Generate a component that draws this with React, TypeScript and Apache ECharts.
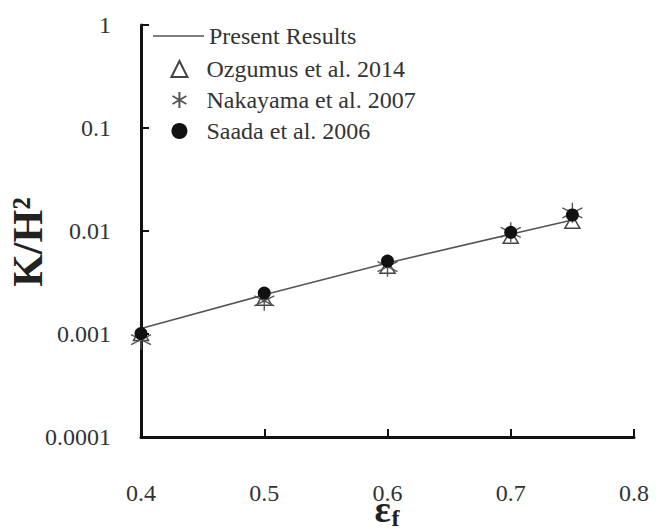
import React, { useEffect, useRef, useState } from "react";
import * as echarts from "echarts";

const porosity = [0.4, 0.5, 0.6, 0.7, 0.75];
const presentResults = [0.00113, 0.0024, 0.0049, 0.0093, 0.0128];
const ozgumus2014 = [0.001, 0.0022, 0.0045, 0.0088, 0.0123];
const nakayama2007 = [0.00088, 0.0021, 0.0045, 0.0097, 0.015];
const saada2006 = [0.00101, 0.0025, 0.0051, 0.0097, 0.0143];
const xTicks = [0.4, 0.5, 0.6, 0.7, 0.8];
const yTickLabels = ["0.0001", "0.001", "0.01", "0.1", "1"];
const seriesNames = ["Present Results", "Ozgumus et al. 2014", "Nakayama et al. 2007", "Saada et al. 2006"];

const FONT = "Times New Roman";
const GFONT = "Liberation Serif";
const ASTERISK = "path://M10,0L10,20M1.34,5L18.66,15M1.34,15L18.66,5";
const pairs = (ys: number[]) => porosity.map((x, i) => [x, ys[i]]);

export default function App() {
  const ref = useRef<HTMLDivElement>(null);
  const [ready, setReady] = useState(false);
  useEffect(() => {
    if (!ref.current) return;
    const chart = echarts.init(ref.current, undefined, { renderer: "svg" });
    const legendText = { fontFamily: FONT, fontSize: 24, color: "#333" };
    const option = {
      animation: false,
      backgroundColor: "#fff",
      textStyle: { fontFamily: FONT },
      grid: { left: 141, right: 34, top: 25, bottom: 92, containLabel: false },
      legend: [
        { orient: "vertical", left: 148, top: 19, itemWidth: 51, itemHeight: 1.6, icon: "rect", selectedMode: false, data: [seriesNames[0]], textStyle: legendText },
        { orient: "vertical", left: 165, top: 52, itemWidth: 16, itemHeight: 16, itemGap: 7, selectedMode: false, data: seriesNames.slice(1), textStyle: { ...legendText, padding: [0, 0, 0, 14] } },
      ],
      xAxis: {
        type: "value", min: 0.4, max: 0.8, interval: 0.1,
        axisLine: { onZero: false, lineStyle: { color: "#111", width: 3 } },
        axisTick: { inside: true, length: 8, lineStyle: { color: "#111", width: 2 } },
        splitLine: { show: false },
        axisLabel: {
          margin: 44, fontFamily: FONT, fontSize: 24, color: "#333",
          formatter: (v: number) => {
            const hit = xTicks.find((t) => Math.abs(t - v) < 1e-6);
            return hit !== undefined ? hit.toFixed(1) : "";
          },
        },
      },
      yAxis: {
        type: "log", logBase: 10, min: 0.0001, max: 1,
        axisLine: { onZero: false, lineStyle: { color: "#111", width: 3 } },
        axisTick: { inside: true, length: 8, lineStyle: { color: "#111", width: 2 } },
        splitLine: { show: false },
        minorTick: { show: false },
        axisLabel: {
          margin: 30, fontFamily: FONT, fontSize: 24, color: "#333",
          formatter: (v: number) => yTickLabels[Math.round(Math.log10(v)) + 4] ?? "",
        },
      },
      graphic: [
        {
          type: "text", x: 28, y: 242, rotation: Math.PI / 2,
          style: { text: "K/H²", fontFamily: GFONT, fontSize: 42, fontWeight: "bold", fill: "#222", align: "center", verticalAlign: "middle" },
        },
        {
          type: "text", x: 387, y: 509,
          style: {
            text: "{a|ε}{b|f}", align: "center", verticalAlign: "middle",
            rich: {
              a: { fontFamily: GFONT, fontSize: 38, fontWeight: "bold", fill: "#222" },
              b: { fontFamily: GFONT, fontSize: 24, fontWeight: "bold", fill: "#222", padding: [18, 0, 0, 1] },
            },
          },
        },
      ],
      series: [
        { name: seriesNames[0], type: "line", data: pairs(presentResults), symbol: "none", lineStyle: { color: "#555", width: 1.6 }, itemStyle: { color: "#555" }, z: 2 },
        { name: seriesNames[1], type: "scatter", data: pairs(ozgumus2014), symbol: "triangle", symbolSize: [15, 13], itemStyle: { color: "#fff", borderColor: "#444", borderWidth: 1.5, opacity: 1 }, z: 3 },
        { name: seriesNames[2], type: "scatter", data: pairs(nakayama2007), symbol: ASTERISK, symbolSize: 20, itemStyle: { color: "none", borderColor: "#555", borderWidth: 1.4, opacity: 1 }, z: 4 },
        { name: seriesNames[3], type: "scatter", data: pairs(saada2006), symbol: "circle", symbolSize: 13, itemStyle: { color: "#111", opacity: 1 }, z: 5 },
      ],
    };
    chart.setOption(option);
    const timer = setTimeout(() => {
      chart.setOption(option, true);
      setReady(true);
    }, 200);
    return () => {
      clearTimeout(timer);
      chart.dispose();
    };
  }, []);
  return (
    <div>
      <div ref={ref} style={{ position: "fixed", left: 0, top: 0, width: 668, height: 529 }} />
      <span style={{ position: "fixed", left: -9999, top: 0, fontFamily: FONT }}>{ready ? "ready" : ""}</span>
    </div>
  );
}
